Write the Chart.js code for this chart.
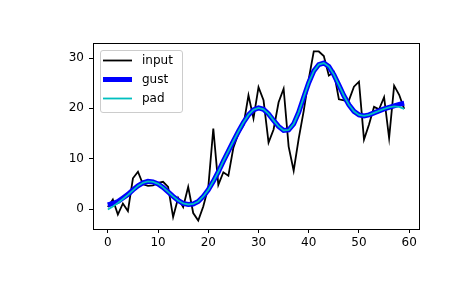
<!DOCTYPE html>
<html>
<head>
<meta charset="utf-8">
<script src="https://cdn.jsdelivr.net/npm/chart.js@4.4.1/dist/chart.umd.min.js"></script>
<style>
  body { margin: 0; background: #fff; }
  #chart { display: block; }
</style>
</head>
<body>
<canvas id="chart" width="465" height="288"></canvas>
<script>
const inputValues = [
  0.4, 1.9, -1.1, 1.1, -0.4, 6.1, 7.4, 4.9, 4.6, 4.7,
  5.2, 5.4, 4.4, -1.6, 2.2, 0.4, 4.4, -0.8, -2.3, 0.5,
  4.3, 16.0, 4.8, 7.3, 6.6, 12.2, 15.0, 16.6, 22.6, 18.0,
  24.2, 21.6, 13.2, 15.8, 21.2, 23.9, 12.4, 7.6, 14.0, 19.5,
  25.8, 31.3, 31.3, 30.4, 26.5, 27.2, 21.8, 21.6, 21.6, 24.3,
  25.3, 13.8, 16.8, 20.3, 19.8, 22.2, 14.1, 24.5, 22.7, 19.9
];
const gustValues = [
  0.8, 1.1, 1.5, 2.2, 2.9, 3.8, 4.6, 5.2, 5.5, 5.4,
  5.0, 4.3, 3.4, 2.5, 1.7, 1.1, 0.9, 1.0, 1.5, 2.5,
  3.8, 5.5, 7.4, 9.5, 11.5, 13.5, 15.4, 17.2, 18.7, 19.7,
  20.1, 19.8, 18.9, 17.6, 16.4, 15.6, 15.7, 16.9, 19.2, 22.2,
  25.1, 27.4, 28.7, 29.0, 28.3, 26.7, 24.6, 22.5, 20.7, 19.4,
  18.7, 18.5, 18.7, 19.1, 19.5, 19.9, 20.2, 20.5, 20.8, 21.0
];
const padValues = [
  -0.1, 0.5, 1.2, 2.0, 2.8, 3.7, 4.6, 5.2, 5.5, 5.4,
  5.0, 4.3, 3.4, 2.5, 1.7, 1.1, 0.9, 1.0, 1.5, 2.5,
  3.8, 5.5, 7.4, 9.5, 11.5, 13.5, 15.4, 17.2, 18.7, 19.7,
  20.1, 19.8, 18.9, 17.6, 16.4, 15.6, 15.7, 16.9, 19.2, 22.2,
  25.1, 27.4, 28.7, 29.0, 28.3, 26.7, 24.6, 22.5, 20.7, 19.4,
  18.7, 18.5, 18.7, 19.1, 19.5, 19.9, 20.2, 20.4, 20.3, 19.9
];
const xTicks = [0, 10, 20, 30, 40, 50, 60];
const yTicks = [0, 10, 20, 30];

const FONT = "DejaVu Sans";

const toPoints = (vals) => vals.map((v, i) => ({ x: i, y: v }));

// axes box + legend drawn like matplotlib
const framePlugin = {
  id: "frame",
  afterDatasetsDraw(chart) {
    const { ctx, chartArea: a } = chart;
    ctx.save();
    ctx.strokeStyle = "#000";
    ctx.lineWidth = 1;
    ctx.strokeRect(Math.round(a.left) + 0.5, Math.round(a.top) + 0.5,
      Math.round(a.right - a.left), Math.round(a.bottom - a.top));
    ctx.restore();
  },
  afterDraw(chart) {
    const { ctx } = chart;
    const sets = chart.data.datasets;
    ctx.save();
    ctx.beginPath();
    ctx.roundRect(100.5, 50.5, 82, 62, 2.5);
    ctx.fillStyle = "rgba(255,255,255,0.8)";
    ctx.fill();
    ctx.strokeStyle = "#cccccc";
    ctx.lineWidth = 1;
    ctx.stroke();
    ctx.font = "12px '" + FONT + "'";
    ctx.textBaseline = "middle";
    ctx.fillStyle = "#000";
    sets.forEach((ds, i) => {
      const y = 60.5 + i * 19;
      ctx.beginPath();
      ctx.moveTo(103, y);
      ctx.lineTo(132, y);
      ctx.strokeStyle = ds.borderColor;
      ctx.lineWidth = ds.borderWidth;
      ctx.stroke();
      ctx.fillText(ds.label, 142, y);
    });
    ctx.restore();
  }
};

new Chart(document.getElementById("chart"), {
  type: "line",
  data: {
    datasets: [
      { label: "input", data: toPoints(inputValues), borderColor: "#000000", borderWidth: 1.8, order: 3 },
      { label: "gust", data: toPoints(gustValues), borderColor: "#0000ff", borderWidth: 5, order: 2 },
      { label: "pad", data: toPoints(padValues), borderColor: "#00bfbf", borderWidth: 1.8, order: 1 }
    ]
  },
  options: {
    responsive: false,
    animation: false,
    devicePixelRatio: 1,
    elements: { point: { radius: 0 }, line: { tension: 0, borderCapStyle: "butt" } },
    layout: { padding: { top: 43, right: 46, left: 0, bottom: 0 } },
    plugins: { legend: { display: false }, tooltip: { enabled: false } },
    scales: {
      x: {
        type: "linear",
        min: -2.95,
        max: 61.95,
        afterBuildTicks: (s) => { s.ticks = xTicks.map((v) => ({ value: v })); },
        afterFit: (s) => { s.height = 59; },
        border: { display: false },
        grid: { drawOnChartArea: false, drawTicks: true, tickLength: 4, color: "#000" },
        ticks: { color: "#000", padding: 3, maxRotation: 0, font: { family: FONT, size: 12 } }
      },
      y: {
        type: "linear",
        min: -3.97,
        max: 32.98,
        afterBuildTicks: (s) => { s.ticks = yTicks.map((v) => ({ value: v })); },
        afterFit: (s) => { s.width = 93; },
        border: { display: false },
        grid: { drawOnChartArea: false, drawTicks: true, tickLength: 4, color: "#000" },
        ticks: { color: "#000", padding: 5, font: { family: FONT, size: 12 } }
      }
    }
  },
  plugins: [framePlugin]
});
</script>
</body>
</html>
